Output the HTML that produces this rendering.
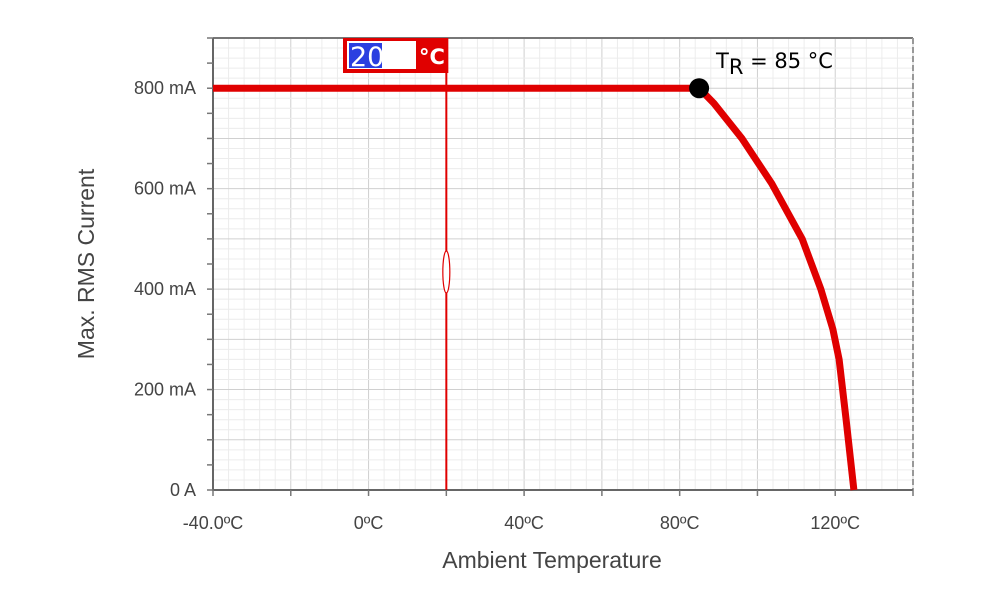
<!DOCTYPE html>
<html><head><meta charset="utf-8"><style>
body{margin:0;background:#fff;width:1000px;height:600px;overflow:hidden;font-family:"Liberation Sans",sans-serif}
</style></head><body>
<svg id="c" width="1000" height="600"></svg>
<script>
const tempTicks=[-40,0,40,80,120];
const tickLabels=["-40.0ºC","0ºC","40ºC","80ºC","120ºC"];
const currTicks=[0,200,400,600,800];
const currLabels=["0 A","200 mA","400 mA","600 mA","800 mA"];
const curveT=[-40,85,88.8,96,103.7,111.5,116.3,119.4,121,122.8,124.8];
const curveI=[800,800,770,700,610,500,400,320,260,140,0];
const ratedT=85, ratedI=800;
const cursorT=20;
const X0=213,X1=913,Y0=490,Y1=38;
const x=t=>X0+(t+40)*(X1-X0)/180;
const y=v=>Y0-v*(Y0-Y1)/900;
const NS="http://www.w3.org/2000/svg";
const svg=document.getElementById('c');
function mk(tag,attrs,parent){const e=document.createElementNS(NS,tag);for(const k in attrs)e.setAttribute(k,attrs[k]);(parent||svg).appendChild(e);return e;}
const grid=mk('g',{});


for(let t=-40;t<=140;t+=4){const m=(t%20===0);mk('line',{x1:x(t),x2:x(t),y1:Y1,y2:Y0,stroke:m?'#d0d0d0':'#ececec'},grid);}
for(let v=0;v<=900;v+=20){const m=(v%100===0);mk('line',{x1:X0,x2:X1,y1:y(v),y2:y(v),stroke:m?'#d0d0d0':'#ececec'},grid);}
mk('line',{x1:X0,x2:X1,y1:Y1,y2:Y1,stroke:'#777','stroke-width':2},grid);
mk('line',{x1:X1,x2:X1,y1:Y1,y2:Y0,stroke:'#999','stroke-width':2,'stroke-dasharray':'6,3'},grid);
const ax=mk('g',{});


mk('line',{x1:X0,x2:X0,y1:Y1,y2:Y0+1,stroke:'#666','stroke-width':2},ax);
mk('line',{x1:X0,x2:X1,y1:Y0,y2:Y0,stroke:'#666','stroke-width':2},ax);
for(let t=-40;t<=140;t+=20)mk('line',{x1:x(t),x2:x(t),y1:Y0,y2:Y0+6,stroke:'#777','stroke-width':1.5},ax);
for(let v=0;v<=900;v+=50)mk('line',{x1:X0-6,x2:X0,y1:y(v),y2:y(v),stroke:'#777','stroke-width':1.5},ax);
tempTicks.forEach((t,i)=>{const e=mk('text',{x:x(t),y:529,'text-anchor':'middle','font-size':18,fill:'#444'},ax);e.textContent=tickLabels[i];

});
currTicks.forEach((v,i)=>{const e=mk('text',{x:196,y:y(v)+6,'text-anchor':'end','font-size':18,fill:'#444'},ax);e.textContent=currLabels[i];

});
let e=mk('text',{x:552,y:568,'text-anchor':'middle','font-size':23,fill:'#444'});e.textContent='Ambient Temperature';


e=mk('text',{x:94,y:264,'text-anchor':'middle','font-size':23,fill:'#444',transform:'rotate(-90 94 264)'});e.textContent='Max. RMS Current';


const cur=mk('polyline',{points:curveT.map((t,i)=>x(t)+','+y(curveI[i])).join(' '),fill:'none',stroke:'#e00000','stroke-width':7,'stroke-linejoin':'round'});


const cx=x(cursorT);
const cl=mk('line',{x1:cx,x2:cx,y1:Y1,y2:Y0,stroke:'#e00000','stroke-width':2});


const hd=mk('ellipse',{cx:cx,cy:272,rx:3.5,ry:21,fill:'#fff',stroke:'#e00000','stroke-width':1.2});


const box=mk('g',{});


mk('rect',{x:343,y:38,width:cx-343+2,height:35,fill:'#e00000'},box);
mk('rect',{x:347,y:41,width:69,height:28,fill:'#fff'},box);
mk('rect',{x:349,y:43,width:33,height:25,fill:'#2b3fe0'},box);
e=mk('text',{x:350,y:66,'font-size':27,fill:'#fff','font-family':'DejaVu Sans'},box);e.textContent=String(cursorT);
e=mk('text',{x:432,y:64,'text-anchor':'middle','font-size':21,'font-weight':'bold',fill:'#fff','font-family':'DejaVu Sans'},box);e.textContent='°C';
const dot=mk('circle',{cx:x(ratedT),cy:y(ratedI),r:10,fill:'#000'});


e=mk('text',{x:716,y:68,'font-size':21,fill:'#000','font-family':'DejaVu Sans'});
e.innerHTML='T<tspan dy="6">R</tspan><tspan dy="-6"> = 85 °C</tspan>';


</script>
</body></html>
